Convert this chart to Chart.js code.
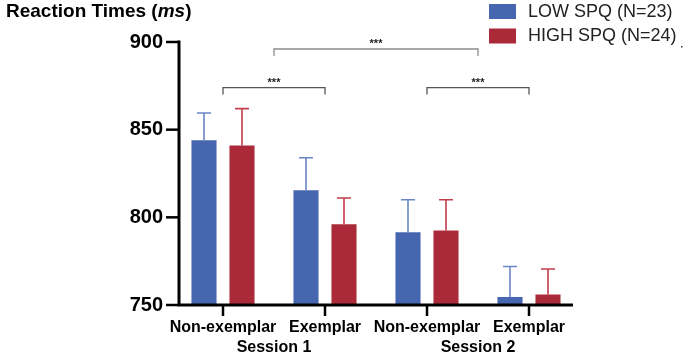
<!DOCTYPE html>
<html>
<head>
<meta charset="utf-8">
<script src="https://cdn.jsdelivr.net/npm/chart.js@4.4.0/dist/chart.umd.min.js"></script>
<style>
  body { margin: 0; background: #fff; }
  canvas { display: block; }
</style>
</head>
<body>
<canvas id="rt" width="685" height="355"></canvas>
<script>
// data
var conditions = ['Non-exemplar', 'Exemplar', 'Non-exemplar', 'Exemplar'];
var sessions = ['Session 1', 'Session 2'];
var lowSpq = [844, 815.5, 791.5, 754.5];
var lowSpqErr = [15.5, 18.5, 18.5, 17.5];
var highSpq = [841, 796, 792.5, 756];
var highSpqErr = [21, 15, 17.5, 14.5];
var yTicks = [750, 800, 850, 900];
// significance brackets: from / to in category index, level in ms
var brackets = [
  { from: 0, to: 1, level: 874, label: '***' },
  { from: 2, to: 3, level: 874, label: '***' },
  { from: 0.5, to: 2.5, level: 896, label: '***' }
];

var FONT = '"Liberation Sans", Arial, Helvetica, sans-serif';

var decor = {
  id: 'decor',
  afterDatasetsDraw: function(chart) {
    var ctx = chart.ctx;
    var x = chart.scales.x, y = chart.scales.y;
    var axisX = 179, axisEnd = 573;
    var base = y.getPixelForValue(yTicks[0]);
    var top = y.getPixelForValue(yTicks[yTicks.length - 1]);
    ctx.save();

    // error bars
    var errs = [lowSpqErr, highSpqErr];
    var errColors = ['#6b86c8', '#c23d4c'];
    chart.data.datasets.forEach(function(ds, di) {
      var meta = chart.getDatasetMeta(di);
      ctx.strokeStyle = errColors[di];
      ctx.lineWidth = 1.6;
      meta.data.forEach(function(bar, i) {
        var yt = y.getPixelForValue(ds.data[i] + errs[di][i]);
        ctx.beginPath();
        ctx.moveTo(bar.x, bar.y);
        ctx.lineTo(bar.x, yt);
        ctx.moveTo(bar.x - 7, yt);
        ctx.lineTo(bar.x + 7, yt);
        ctx.stroke();
      });
    });

    // axes
    ctx.strokeStyle = '#000';
    ctx.lineWidth = 3;
    ctx.beginPath();
    ctx.moveTo(axisX, top - 1.5);
    ctx.lineTo(axisX, base);
    ctx.lineTo(axisEnd, base);
    ctx.stroke();
    ctx.lineWidth = 2.5;
    yTicks.forEach(function(v) {
      var py = y.getPixelForValue(v);
      ctx.beginPath();
      ctx.moveTo(166, py);
      ctx.lineTo(axisX, py);
      ctx.stroke();
    });
    conditions.forEach(function(c, i) {
      var px = x.getPixelForValue(i);
      ctx.beginPath();
      ctx.moveTo(px, base);
      ctx.lineTo(px, base + 11);
      ctx.stroke();
    });

    // session labels
    ctx.fillStyle = '#000';
    ctx.font = 'bold 16px ' + FONT;
    ctx.textAlign = 'center';
    ctx.textBaseline = 'alphabetic';
    sessions.forEach(function(s, k) {
      var px = (x.getPixelForValue(2 * k) + x.getPixelForValue(2 * k + 1)) / 2;
      ctx.fillText(s, px, 352);
    });

    // significance brackets
    brackets.forEach(function(b, k) {
      var x1 = x.getPixelForValue(b.from), x2 = x.getPixelForValue(b.to);
      if (b.from % 1) x1 = (x.getPixelForValue(Math.floor(b.from)) + x.getPixelForValue(Math.ceil(b.from))) / 2;
      if (b.to % 1) x2 = (x.getPixelForValue(Math.floor(b.to)) + x.getPixelForValue(Math.ceil(b.to))) / 2;
      var py = y.getPixelForValue(b.level);
      ctx.strokeStyle = k < 2 ? '#555' : '#8c8c8c';
      ctx.lineWidth = 1.3;
      ctx.beginPath();
      ctx.moveTo(x1, py + 7);
      ctx.lineTo(x1, py);
      ctx.lineTo(x2, py);
      ctx.lineTo(x2, py + 7);
      ctx.stroke();
      ctx.fillStyle = '#222';
      ctx.font = 'bold 11px ' + FONT;
      ctx.fillText(b.label, (x1 + x2) / 2, py - 2);
    });

    // title
    ctx.textAlign = 'left';
    ctx.fillStyle = '#000';
    var tx = 6, ty = 17;
    ctx.font = 'bold 19px ' + FONT;
    ctx.fillText('Reaction Times (', tx, ty);
    tx += ctx.measureText('Reaction Times (').width;
    ctx.font = 'italic bold 19px ' + FONT;
    ctx.fillText('ms', tx, ty);
    tx += ctx.measureText('ms').width;
    ctx.font = 'bold 19px ' + FONT;
    ctx.fillText(')', tx, ty);

    // legend
    ctx.font = '18px ' + FONT;
    ctx.textBaseline = 'middle';
    chart.data.datasets.forEach(function(ds, di) {
      var ly = 4 + di * 24.5;
      ctx.fillStyle = ds.backgroundColor;
      ctx.fillRect(489, ly, 27, 15);
      ctx.fillStyle = '#222';
      ctx.fillText(ds.label, 528, ly + 8);
    });
    ctx.fillStyle = '#333';
    ctx.fillRect(681, 46, 1.5, 1.5);

    ctx.restore();
  }
};

new Chart(document.getElementById('rt'), {
  type: 'bar',
  data: {
    labels: conditions,
    datasets: [
      { label: 'LOW SPQ (N=23)', data: lowSpq, backgroundColor: '#4766b0' },
      { label: 'HIGH SPQ (N=24)', data: highSpq, backgroundColor: '#ab2a39' }
    ]
  },
  options: {
    responsive: false,
    animation: false,
    categoryPercentage: 0.745,
    barPercentage: 0.66,
    layout: { padding: { top: 42, right: 105, left: 0, bottom: 0 } },
    plugins: { legend: { display: false }, tooltip: { enabled: false } },
    scales: {
      x: {
        grid: { display: false, drawTicks: false },
        border: { display: false },
        ticks: { color: '#000', font: { family: FONT, size: 16, weight: 'bold' }, padding: 13, maxRotation: 0, autoSkip: false },
        afterFit: function(s) { s.height = 50; }
      },
      y: {
        min: 750,
        max: 900,
        grid: { display: false, drawTicks: false },
        border: { display: false },
        ticks: { stepSize: 50, color: '#000', font: { family: FONT, size: 20, weight: 'bold' }, padding: 9 },
        afterFit: function(s) { s.width = 172; }
      }
    }
  },
  plugins: [decor]
});
</script>
</body>
</html>
